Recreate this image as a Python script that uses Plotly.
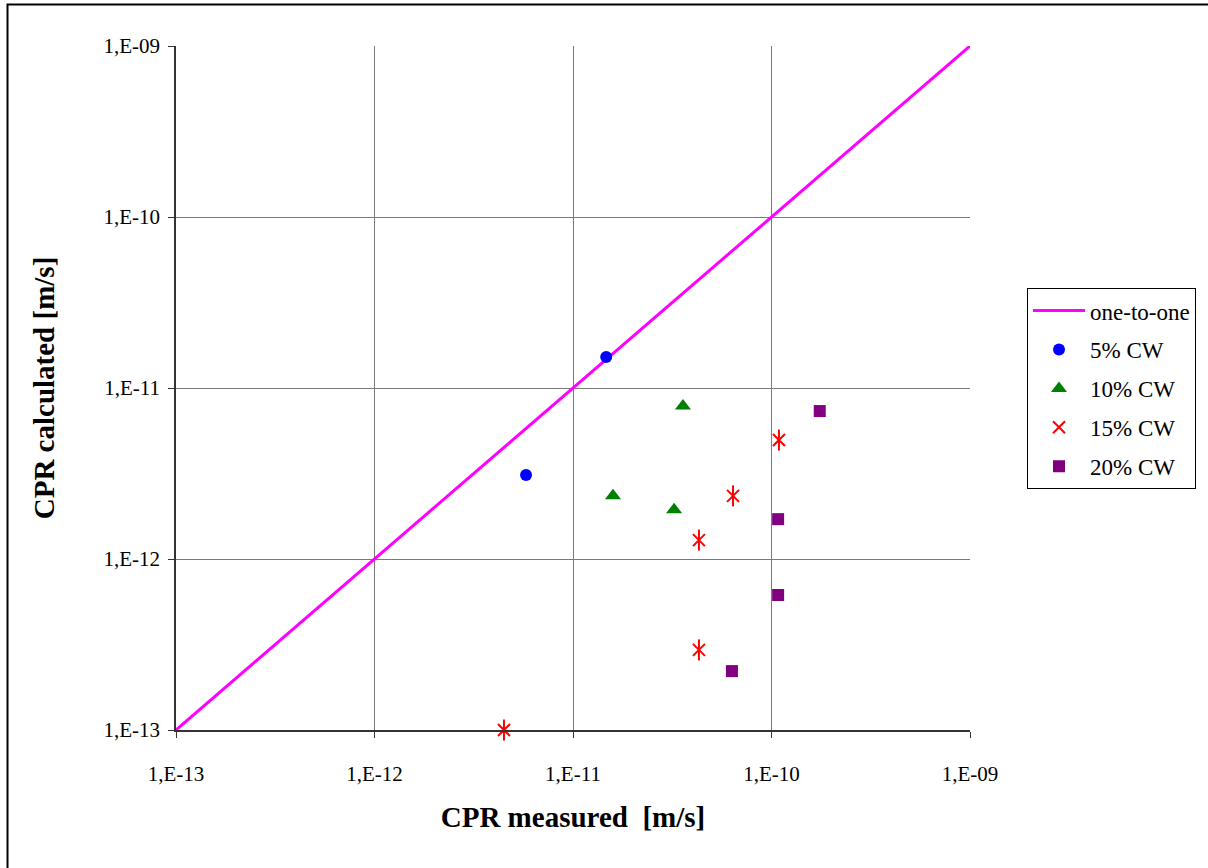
import plotly.graph_objects as go

one_x = [1e-13, 1e-9]
one_y = [1e-13, 1e-9]

cw5_x = [1.47e-11, 5.8e-12]
cw5_y = [1.52e-11, 3.1e-12]

cw10_x = [3.58e-11, 1.59e-11, 3.23e-11]
cw10_y = [7.85e-12, 2.34e-12, 1.94e-12]

cw15_x = [1.09e-10, 6.4e-11, 4.31e-11, 4.31e-11, 4.49e-12]
cw15_y = [4.96e-12, 2.34e-12, 1.29e-12, 2.94e-13, 1.0e-13]

cw20_x = [1.75e-10, 1.08e-10, 1.08e-10, 6.32e-11]
cw20_y = [7.33e-12, 1.71e-12, 6.16e-13, 2.21e-13]

tick_vals = [1e-13, 1e-12, 1e-11, 1e-10, 1e-9]
tick_text = ["1,E-13", "1,E-12", "1,E-11", "1,E-10", "1,E-09"]

FONT = "Liberation Serif, Times New Roman, serif"

fig = go.Figure()
fig.add_trace(go.Scatter(x=one_x, y=one_y, mode="lines", name="one-to-one",
                         line=dict(color="#FF00FF", width=3), legendgroup="a"))
fig.add_trace(go.Scatter(x=cw5_x, y=cw5_y, mode="markers", name="5% CW", cliponaxis=False,
                         marker=dict(symbol="circle", color="#0000FF", size=12), legendgroup="b"))
fig.add_trace(go.Scatter(x=cw10_x, y=cw10_y, mode="markers", name="10% CW", cliponaxis=False,
                         marker=dict(symbol="triangle-up", color="#008000", size=14), legendgroup="c"))
fig.add_trace(go.Scatter(x=cw15_x, y=cw15_y, mode="markers", name="15% CW", cliponaxis=False,
                         marker=dict(symbol="x-thin-open", color="#FF0000", size=12,
                                     line=dict(color="#FF0000", width=2)), legendgroup="d"))
fig.add_trace(go.Scatter(x=cw15_x, y=cw15_y, mode="markers", name="15% CW", showlegend=False,
                         cliponaxis=False,
                         marker=dict(symbol="line-ns-open", color="#FF0000", size=15,
                                     line=dict(color="#FF0000", width=2)), legendgroup="d"))
fig.add_trace(go.Scatter(x=cw20_x, y=cw20_y, mode="markers", name="20% CW", cliponaxis=False,
                         marker=dict(symbol="square", color="#800080", size=12), legendgroup="e"))

axis_common = dict(
    type="log",
    tickvals=tick_vals, ticktext=tick_text,
    showgrid=True, gridcolor="#7a7a7a", gridwidth=1,
    showline=True, linecolor="#333333", linewidth=1.5,
    ticks="outside", ticklen=6, tickcolor="#333333",
    tickfont=dict(family=FONT, size=21, color="black"),
    zeroline=False,
)

fig.update_xaxes(**axis_common, range=[-13, -9],
                 title=dict(text="<b>CPR measured  [m/s]</b>", standoff=22,
                            font=dict(family=FONT, size=29, color="black")),
                 ticklabelstandoff=18)
fig.update_yaxes(**axis_common, range=[-13, -9],
                 title=dict(text="<b>CPR calculated [m/s]</b>", standoff=40,
                            font=dict(family=FONT, size=29, color="black")),
                 ticklabelstandoff=4)

fig.add_shape(type="rect", xref="paper", yref="paper",
              x0=-0.2122, x1=1.4, y0=-0.3, y1=1.0607,
              line=dict(color="black", width=2), fillcolor="rgba(0,0,0,0)", layer="below")

fig.update_layout(
    width=1208, height=868,
    margin=dict(l=176, r=238, t=46, b=138, autoexpand=False),
    paper_bgcolor="white", plot_bgcolor="white",
    font=dict(family=FONT, color="black"),
    legend=dict(x=1.0718, y=0.646, xanchor="left", yanchor="top",
                bordercolor="black", borderwidth=1, bgcolor="white",
                font=dict(family=FONT, size=23, color="black"),
                tracegroupgap=6, itemwidth=52),
)

fig.write_html("out.html")
